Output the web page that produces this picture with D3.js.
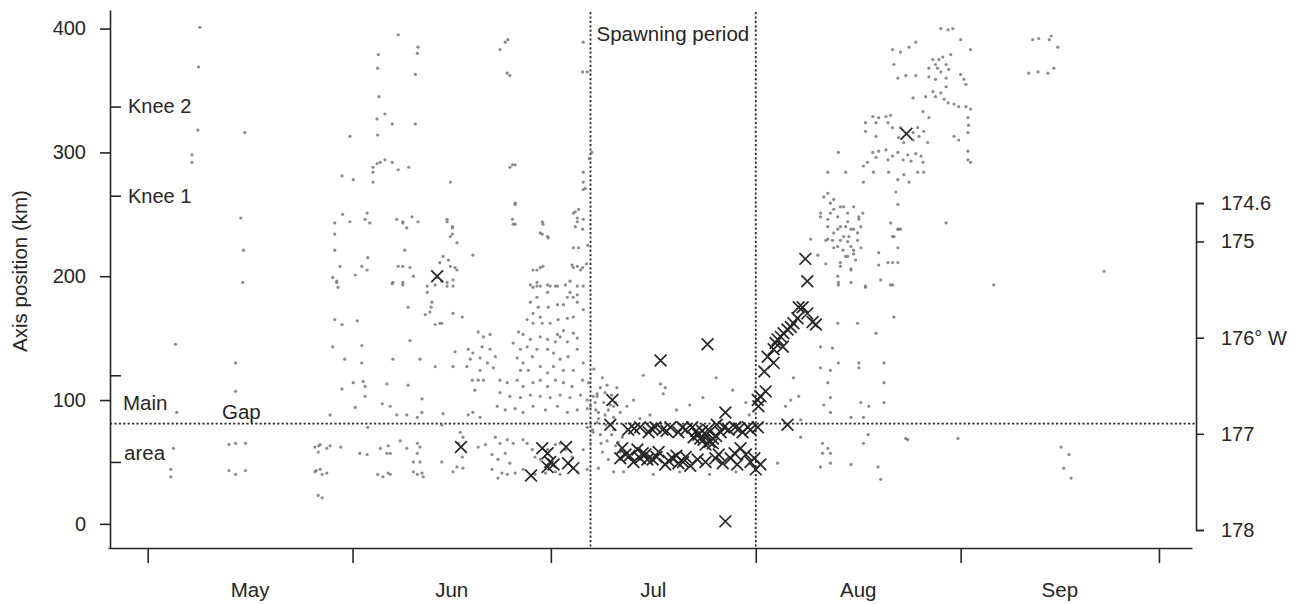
<!DOCTYPE html>
<html lang="en">
<head>
<meta charset="utf-8">
<title>Axis position through the season</title>
<script src="https://cdn.jsdelivr.net/npm/d3@7"></script>
<style>
  body { margin: 0; background: #fff; }
  svg { font-family: "Liberation Sans", Arial, sans-serif; color: #262626; }
  .axis path, .axis line { stroke-width: 1.6; }
  .axis text { font-size: 20px; font-family: "Liberation Sans", Arial, sans-serif; }
  .lbl { font-size: 20.5px; fill: #262626; }
</style>
</head>
<body>
<svg id="chart" width="1304" height="604"></svg>
<script>
// every point is [days after 1 May, axis position in km]

// grey dots before the spawning period
var earlyDots = [
  [7.9,401],[7.7,369],[7.6,318],[6.7,298],[6.7,292],[14.7,316],[14.1,247],[14.5,221],[14.4,195],
  [4.2,145],[13.3,130],[13.3,107],[4.4,90],[3.9,61],[3.5,44],[3.5,38],[12.3,64],[13.3,65],[14.8,65],
  [12.3,43],[13.3,40],[14.8,43],[25.3,62],[25.9,63],[25.5,43],[25.8,23],
  [28.6,196],[28.8,191],[37.0,194],[38.6,193],[42.3,192],[43.5,193],[44.5,196],[45.3,192],
  [42.3,187],[43.0,179],[42.9,175],[42.7,171],[42.0,169],[43.5,161],[44.5,162],
  [39.4,175],[28.3,165],[29.4,161],[31.7,164],[28.0,143],[32.4,144],
  [29.8,133],[32.4,130],[37.1,133],[41.2,133],[43.5,127],[39.7,148],
  [29.4,109],[31.1,114],[32.6,115],[32.9,111],[36.2,113],[39.4,112],
  [32.9,103],[31.4,94],[35.5,97],[36.7,95],[41.5,101],[41.5,90],
  [27.6,88],[37.7,88],[39.2,88],[40.8,86],[44.7,89],[33.3,78],[44.5,80],[38.2,67],
  [26.1,64],[27.1,61],[27.6,63],[25.8,58],[29.2,62],
  [32.1,57],[33.2,56],[35.2,61],[36.4,63],[36.7,57],[36.2,57],
  [40.8,65],[41.2,62],[40.8,57],[39.2,61],[40.2,50],[41.2,50],[44.5,50],
  [25.3,42],[26.1,44],[27.1,41],[26.4,40],[34.8,40],[35.6,38],[36.4,41],[36.7,40],
  [40.2,42],[41.5,41],[41.7,38],[40.8,40],[26.4,21],
  [37.9,395],[40.9,385],[40.8,380],[34.9,379],[34.8,368],[40.5,363],[35.0,345],
  [35.9,331],[34.7,327],[37.0,323],[40.5,323],[34.8,314],[30.6,313],
  [34.7,291],[35.2,292],[35.9,294],[37.0,292],[34.1,288],[37.9,286],[39.5,288],[34.1,284],[34.1,276],
  [29.4,281],[31.1,278],[45.8,276],
  [53.3,383],[54.1,389],[54.5,391],[54.4,364],[54.8,362],[54.8,288],[55.6,290],
  [55.6,259],[55.6,242],[55.2,246],[65.9,389],[66.5,365],[65.8,365],[65.9,284],[65.9,276],[65.9,270],
  [28.3,243],[29.5,250],[30.6,244],[33.2,251],[32.9,246],[33.6,243],
  [37.7,246],[38.6,244],[40.0,248],[40.9,244],[39.2,239],[38.6,243],
  [45.3,246],[46.1,240],[46.1,234],
  [28.3,234],[28.3,221],[29.1,208],[28.6,195],[28.0,199],
  [32.4,208],[33.3,215],[33.2,205],[31.4,201],
  [37.9,208],[38.6,208],[39.7,207],[38.9,221],[37.1,195],[38.6,195],
  [40.2,200],[43.8,199],[44.7,216],[44.2,211],[45.3,195],[46.2,192],[46.2,197],[46.8,205],[49.2,217],
  [59.7,244],[59.4,235],[60.5,232],
  [64.4,251],[65.2,254],[65.9,246],[65.0,244],[65.8,238],
  [64.4,223],[65.2,223],[65.0,208],[65.8,207],[64.2,209],
  [58.3,205],[59.4,207],[59.8,208],[58.9,195],[58.3,191],[59.4,192],[60.9,192],[62.0,192],
  [63.9,187],[65.0,185],[65.9,192],
  [55.2,290],[55.6,258],[55.3,242],[66.2,271],
  [45.3,244],[46.1,239],[45.8,232],[46.8,227],
  [59.8,242],[59.7,234],[60.6,231],
  [64.7,252],[65.0,247],[64.7,240],
  [45.5,213],[45.8,208],[46.5,207],
  [58.9,205],[64.4,207],[65.5,205],
  [57.9,193],[58.9,192],[60.5,193],[61.7,192],[63.2,193],[58.9,183],[60.5,187],
  [63.9,196],[65.0,192],[64.4,183],[63.5,183],[65.0,179],
  [57.9,179],[59.1,175],[60.6,175],[62.0,177],[62.9,177],
  [46.2,170],[47.6,167],[44.2,162],
  [58.3,170],[59.4,167],[58.3,162],[59.7,162],[57.4,165],[60.9,162],[62.1,165],[63.5,166],[64.4,167],
  [65.9,173],[64.4,154],[62.9,156],[62.0,153],
  [56.1,155],[56.8,153],[57.9,149],[59.4,151],[60.5,149],[61.7,147],[62.4,151],[63.5,147],[65.0,150],
  [50.0,155],[50.8,151],[51.8,153],[50.6,143],[51.8,141],[49.2,138],[48.5,141],
  [48.8,133],[50.3,134],[51.4,130],[52.6,135],[52.3,126],[50.3,124],[48.3,127],
  [49.1,116],[50.0,116],[50.8,116],[49.5,108],
  [46.5,139],[46.2,127],
  [55.3,146],[56.4,141],[57.4,143],[55.9,134],[56.8,130],[58.2,135],[58.9,141],[59.4,127],[57.6,124],[56.4,124],
  [60.5,141],[61.4,138],[62.4,133],[63.6,135],[65.0,141],[65.9,130],[64.4,124],[62.9,124],[61.4,127],[60.5,122],
  [53.3,116],[54.4,114],[55.9,116],[56.8,111],[58.3,114],[59.4,116],[60.5,111],[61.7,116],[62.9,114],
  [64.2,111],[65.8,116],[66.7,114],
  [53.3,106],[54.8,103],[56.4,102],[57.9,104],[59.4,103],[60.9,102],[62.4,104],[63.9,102],[65.5,104],[66.5,100],
  [52.9,95],[54.1,92],[55.6,93],[56.8,90],[58.3,95],[60.2,92],[62.0,95],[63.5,90],[65.0,92],[66.5,93],
  [49.2,90],[48.5,88],[50.3,86],
  [47.3,74],[47.7,70],[47.0,65],[47.6,54],[46.8,46],[46.2,42],[47.7,45],
  [50.0,62],[51.1,64],[52.6,70],[53.3,65],[54.4,68],[55.3,65],[56.8,68],
  [52.1,56],[53.0,52],[54.1,57],[54.8,49],[52.1,44],[53.6,41],[54.4,40],[55.6,41],[56.8,44],[53.0,37],
  [57.4,65],[58.2,60],[58.6,54],[59.4,52],[60.5,60],[61.7,64],[62.4,65],[63.2,60],[64.2,54],[65.9,60],
  [58.6,40],[60.2,41],[61.7,42],[62.4,40],[65.0,42],[66.5,44],[66.5,78]
];

// grey dots inside the spawning period
var spawnDots = [
  [67.0,65],[67.3,76],[68.0,82],[67.4,74],[67.0,95],[67.7,98],[68.0,103],[67.4,103],[68.2,90],
  [68.5,110],[69.2,106],[70.0,96],[69.7,92],[70.8,98],[68.2,85],[69.2,88],[70.5,86],[71.5,90],
  [68.5,72],[69.5,67],[70.8,63],[68.8,58],[69.7,52],[71.5,58],[68.2,45],[70.5,42],
  [67.5,125],[68.8,118],[69.5,112],[68.0,105],[70.2,104],[71.0,110],[69.0,98],[70.5,95],[67.8,92],
  [69.3,80],[70.2,72],[68.6,65],[71.2,66],[70.5,76],[71.8,70],
  [72.5,95],[73.5,100],[74.5,85],[76.0,88],[77.6,113],[78.3,110],[78.0,105],[75.0,120],
  [80.0,92],[82.0,96],[84.0,102],[86.0,118],[88.5,108],[90.5,98],[91.0,88],
  [72.0,42],[76.5,40],[80.5,42],[85.0,40],[89.0,42],[67.2,300],[66.8,295],[66.6,225],[66.4,210]
];

// grey dots after the spawning period
var lateDots = [
  [101.8,251],[102.9,246],[103.8,254],[104.4,248],[104.8,240],[105.9,244],[106.4,238],[105.3,232],
  [103.8,235],[102.9,230],[104.4,224],[105.9,228],[106.8,221],[107.4,235],[107.6,246],[108.2,251],
  [105.3,256],[103.3,259],[105.9,216],[104.8,211],[106.4,205],[107.1,213],
  [112.4,243],[113.5,238],[112.9,232],[113.9,238],[112.0,211],[113.5,211],[110.6,219],[110.9,197],
  [112.7,193],[112.9,167],[113.5,258],[100.3,230],[101.4,217],
  [104.5,193],[108.6,191],[107.4,162],[104.4,162],[110.2,154],
  [101.8,143],[103.6,142],[104.5,130],[103.3,124],[101.8,126],[107.6,130],[107.6,126],[111.4,130],
  [97.7,118],[102.9,114],[103.3,102],[102.3,96],[103.3,90],[107.9,98],[109.1,95],[111.4,98],[111.4,114],
  [97.3,100],[96.5,95],[98.5,103],[98.8,84],[106.4,86],[108.3,86],
  [102.1,65],[102.9,61],[102.1,57],[103.3,57],[101.8,46],[103.3,49],[109.0,72],[108.3,65],[106.4,48],
  [110.5,46],[114.7,69],[98.8,70],[95.3,49],
  [120.0,400],[121.1,399],[121.8,400],
  [112.7,383],[113.9,381],[115.2,385],[116.2,389],[123.0,391],[124.5,383],
  [118.8,375],[119.2,371],[119.7,375],[120.3,377],[120.8,371],[121.5,379],[119.5,368],[118.2,368],
  [120.0,365],[121.2,367],[112.9,371],
  [113.5,360],[114.7,362],[116.2,362],[118.2,361],[119.2,359],[120.8,360],[123.0,363],[123.5,359],[123.8,355],
  [115.8,344],[117.7,345],[118.8,349],[120.0,348],[120.8,353],[120.5,343],[119.2,345],
  [121.1,340],[122.0,339],[122.7,337],[123.8,337],[124.5,335],
  [109.7,329],[110.6,328],[111.7,329],[112.4,330],[110.2,324],[112.0,324],
  [117.3,333],[118.2,328],[124.1,328],[124.2,322],
  [108.6,324],[108.6,317],[110.2,313],
  [112.7,320],[113.9,320],[116.5,320],[117.4,317],[115.8,316],[116.7,313],[113.6,312],[114.4,308],
  [118.0,308],[115.8,310],[122.0,313],[122.7,310],[124.1,316],
  [109.7,300],[110.6,301],[111.7,302],[112.7,297],[113.5,300],[115.0,298],[116.2,299],[117.0,297],
  [117.3,292],[115.5,293],[114.3,294],[110.2,296],[108.9,292],[112.0,294],
  [124.1,301],[124.1,294],[124.5,292],
  [108.3,289],[109.8,284],[112.1,284],[113.5,278],[115.2,276],[116.5,284],[117.4,284],[114.4,282],
  [104.5,300],[102.9,284],[105.6,284],[113.2,268],[108.3,276],[120.8,243],
  [102.9,267],[103.8,262],[104.8,256],[103.3,251],[105.9,251],[106.8,256],[107.6,248],[102.9,240],
  [104.4,238],[105.6,240],[106.8,238],[107.9,240],[103.6,229],[104.8,229],[106.1,232],[107.4,229],
  [103.8,223],[105.2,221],[106.4,224],[107.9,223],[105.6,216],[106.8,218],[104.8,208],[106.4,206],
  [104.5,195],[102.3,264],[101.8,248],[102.6,229],[102.6,210],[104.4,200],
  [113.6,238],[112.7,232],[113.5,223],[110.6,209],[112.7,211],[112.4,193],[108.6,192],[106.4,195],
  [144.7,204],
  [133.9,391],[134.8,392],[136.4,391],[136.7,394],[137.7,385],[133.3,364],[134.7,365],[136.2,364],[137.1,368],
  [128.0,193],[110.9,36],[122.6,69],[115.0,68],[138.2,62],[139.4,56],[138.6,45],[139.7,37]
];

// dark crosses
var crossMarks = [
  [43.8,200],[47.4,62],[58.0,39],[59.7,61],[60.5,57],[60.9,50],[61.4,48],[60.5,46],[63.3,62],[63.6,49],[64.4,45],
  [70.3,100],[70.0,80],[77.6,132],[84.7,145],[87.4,90],[87.4,2],
  [71.8,61],[71.5,53],[74.1,60],[74.5,53],[75.6,52],[72.9,55],[74.9,57],
  [72.7,76],[74.5,78],[75.8,74],[76.8,78],[77.9,76],[79.1,78],[80.3,74],[81.4,76],[82.4,78],[83.3,72],
  [84.1,68],[84.8,76],[85.5,69],[86.1,80],[86.7,74],[87.9,76],[88.9,78],[90.0,74],[91.2,76],[92.3,78],
  [84.4,64],[85.5,65],[83.6,69],[73.6,77],[76.2,77],[78.5,75],[80.9,78],[83.0,75],[84.5,72],[85.0,66],
  [86.0,71],[83.9,75],[82.6,70],[87.2,78],[89.5,77],[90.8,78],
  [72.3,56],[73.5,50],[75.3,56],[76.4,52],[77.3,58],[78.3,48],[79.4,53],[80.3,49],[81.4,54],[82.1,47],
  [83.2,52],[84.4,50],[85.9,53],[87.0,49],[88.2,53],[89.2,48],[90.5,56],[91.2,50],[92.0,44],[92.7,48],[89.7,61],
  [77.0,54],[78.8,51],[80.0,55],[81.0,50],[86.4,56],[88.8,57],[91.8,53],
  [92.4,95],[92.3,100],[92.7,103],[93.5,107],[93.3,123],[94.7,130],[93.8,135],[94.7,141],[96.1,143],
  [95.0,146],[95.3,149],[95.8,151],[96.2,154],[96.8,157],[97.3,159],[97.7,162],[98.3,166],[98.5,175],
  [99.1,175],[99.8,170],[100.6,163],[101.1,161],[99.8,196],[99.5,214],[96.8,80],[114.8,315]
];

var monthNames = ["May", "Jun", "Jul", "Aug", "Sep"];
var kmTicks = [0, 100, 200, 300, 400];
var innerTicks = [50, 120, 265, 337];
var innerLabels = { 265: "Knee 1", 337: "Knee 2" };
var lonTicks = [174.6, 175, 176, 177, 178];
var spawning = [67, 92];   // spawning period, days after 1 May
var gapKm = 81;            // boundary between main area and gap

var may1 = Date.UTC(2001, 4, 1);
function dayDate(d) { return new Date(may1 + d * 864e5); }

var svg = d3.select("#chart");

var x = d3.scaleUtc()
    .domain([dayDate(-6), dayDate(158)])
    .range([108, 1192]);
var y = d3.scaleLinear()
    .domain([-19.5, 415])
    .range([548, 10]);
var yLon = d3.scaleLinear()
    .domain([174.6, 178])
    .range([203, 530]);

var leftX = 110, rightX = 1196;

// left axis, km
svg.append("g")
    .attr("class", "axis")
    .attr("transform", "translate(" + leftX + ",0)")
    .call(d3.axisLeft(y).tickValues(kmTicks).tickSize(10).tickSizeOuter(0).tickPadding(14));

// short inner ticks with knee labels
var inner = svg.append("g")
    .attr("class", "axis")
    .attr("transform", "translate(" + leftX + ",0)")
    .call(d3.axisRight(y).tickValues(innerTicks).tickSize(11).tickPadding(7)
        .tickFormat(function(d) { return innerLabels[d] || ""; }));
inner.select(".domain").remove();

// bottom axis, month boundaries
var monthStarts = d3.utcMonths(dayDate(0), dayDate(154));
svg.append("g")
    .attr("class", "axis")
    .attr("transform", "translate(0,548)")
    .call(d3.axisBottom(x).tickValues(monthStarts).tickSize(15).tickSizeOuter(0).tickFormat(""));

svg.append("g").selectAll("text")
    .data(monthNames)
    .enter()
    .append("text")
    .attr("class", "lbl")
    .attr("text-anchor", "middle")
    .attr("x", function(d, i) {
        return (x(monthStarts[i]) + x(monthStarts[i + 1])) / 2;
    })
    .attr("y", 597)
    .text(function(d) { return d; });

// right axis, longitude
svg.append("g")
    .attr("class", "axis")
    .attr("transform", "translate(" + rightX + ",0)")
    .call(d3.axisRight(yLon).tickValues(lonTicks).tickSize(8).tickSizeOuter(8).tickPadding(17)
        .tickFormat(function(d) { return d === 176 ? "176\u00b0 W" : d; }));

// axis title
svg.append("text")
    .attr("class", "lbl")
    .attr("text-anchor", "middle")
    .attr("transform", "translate(27,271) rotate(-90)")
    .text("Axis position (km)");

// dashed reference lines
var dash = svg.append("g")
    .attr("stroke", "#2a2a2a")
    .attr("stroke-width", 1.8)
    .attr("stroke-dasharray", "2.2,2.2");

dash.selectAll("line.v")
    .data(spawning)
    .enter()
    .append("line")
    .attr("class", "v")
    .attr("x1", function(d) { return x(dayDate(d)); })
    .attr("x2", function(d) { return x(dayDate(d)); })
    .attr("y1", 12)
    .attr("y2", 548);

dash.append("line")
    .attr("x1", leftX)
    .attr("x2", rightX)
    .attr("y1", y(gapKm))
    .attr("y2", y(gapKm));

// dots
var allDots = earlyDots.concat(spawnDots, lateDots);
svg.append("g")
    .selectAll("circle")
    .data(allDots)
    .enter()
    .append("circle")
    .attr("cx", function(d) { return x(dayDate(d[0])); })
    .attr("cy", function(d) { return y(d[1]); })
    .attr("r", 1.6)
    .attr("fill", "#777")
    .attr("opacity", 0.85);

// crosses
var cross = d3.symbol().type(d3.symbolX).size(92);
svg.append("g")
    .selectAll("path")
    .data(crossMarks)
    .enter()
    .append("path")
    .attr("transform", function(d) {
        return "translate(" + x(dayDate(d[0])) + "," + y(d[1]) + ")";
    })
    .attr("d", cross)
    .attr("fill", "none")
    .attr("stroke", "#262626")
    .attr("stroke-width", 1.7);

// annotations
svg.append("text").attr("class", "lbl")
    .attr("x", x(dayDate(spawning[0])) + 6).attr("y", 41)
    .text("Spawning period");
svg.append("text").attr("class", "lbl").attr("x", 123).attr("y", 410).text("Main");
svg.append("text").attr("class", "lbl").attr("x", 124).attr("y", 460).text("area");
svg.append("text").attr("class", "lbl").attr("x", 222).attr("y", 419).text("Gap");
</script>
</body>
</html>
